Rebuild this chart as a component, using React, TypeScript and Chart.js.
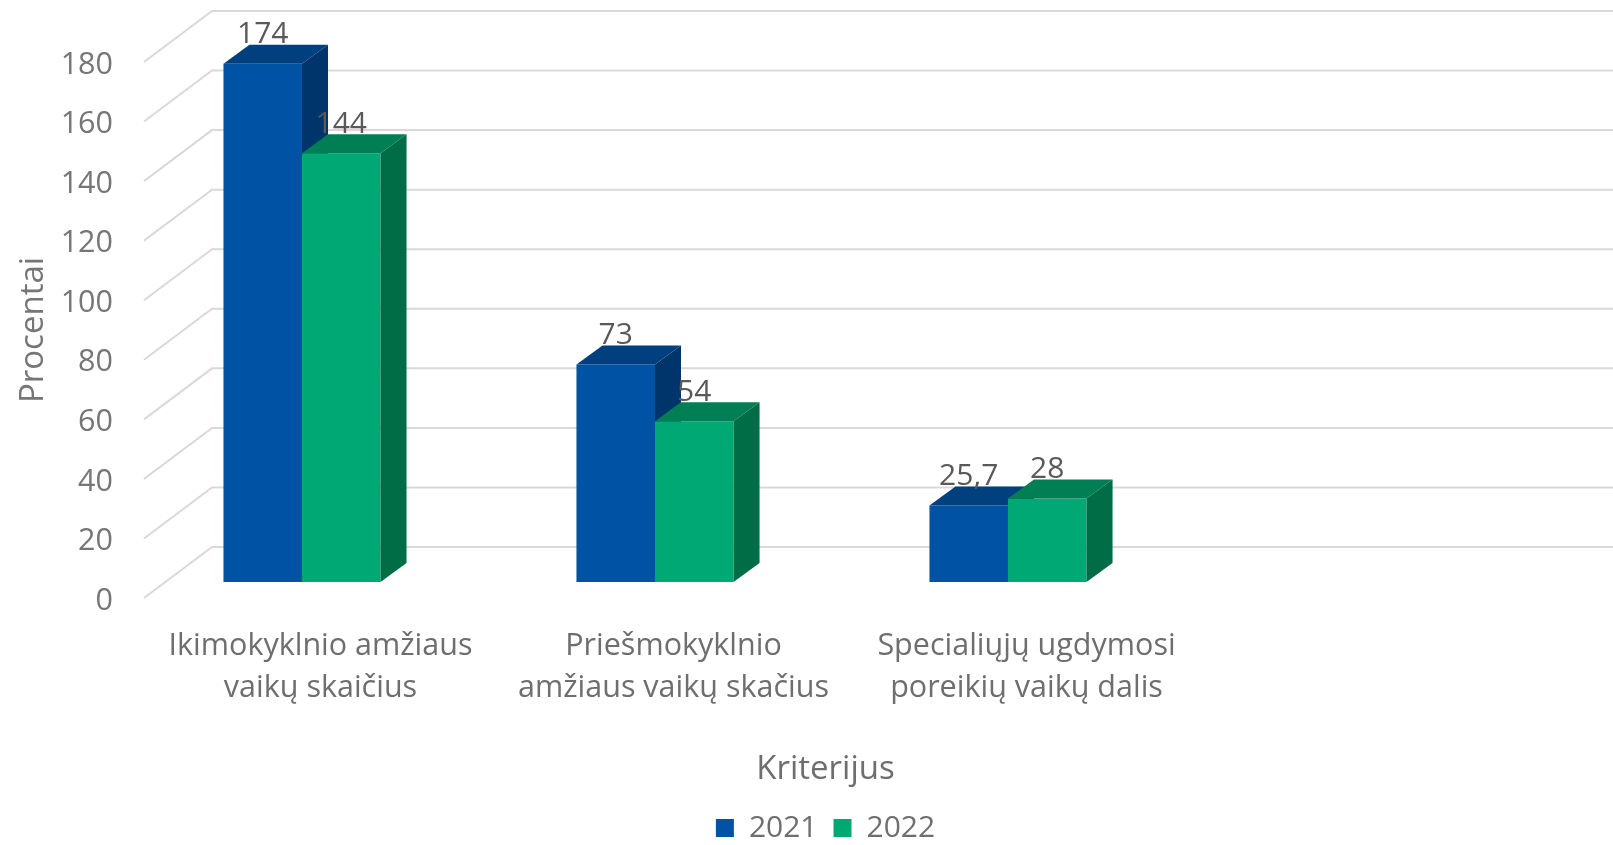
import { useEffect, useRef } from 'react';
import { Chart, registerables } from 'chart.js';

Chart.register(...registerables);

const categories = [
  ['Ikimokyklnio amžiaus', 'vaikų skaičius'],
  ['Priešmokyklnio', 'amžiaus vaikų skačius'],
  ['Specialiųjų ugdymosi', 'poreikių vaikų dalis'],
];
const seriesNames = ['2021', '2022'];
const values2021 = [174, 73, 25.7];
const values2022 = [144, 54, 28];
const yMin = 0;
const yMax = 180;
const yStep = 20;
const yTitle = 'Procentai';
const xTitle = 'Kriterijus';

const frontColors = ['#0053A4', '#00A874'];
const topColors = ['#00407F', '#007F55'];
const sideColors = ['#00356B', '#006D46'];

const FONT = '"Open Sans", "Noto Sans", sans-serif';
const WALL_DX = 68;
const WALL_DY = 51;
const BAR_SHIFT_X = -18.5;
const BAR_SHIFT_Y = -16;
const BAR_DX = 26;
const BAR_DY = 19;

const fmt = (v: number) => String(v).replace('.', ',');

const bars3d = {
  id: 'bars3d',
  beforeDatasetsDraw(chart: any) {
    const y = chart.scales.y;
    const ctx = chart.ctx;
    const left = chart.chartArea.left;
    ctx.save();
    ctx.strokeStyle = '#d9d9d9';
    ctx.lineWidth = 2;
    for (const t of y.ticks) {
      const py = y.getPixelForValue(t.value);
      ctx.beginPath();
      ctx.moveTo(left, py);
      ctx.lineTo(left + WALL_DX, py - WALL_DY);
      ctx.lineTo(chart.width, py - WALL_DY);
      ctx.stroke();
    }
    ctx.restore();
  },
  beforeDatasetDraw() {
    // bars are drawn below, in dataset order, together with their 3D faces
    return false;
  },
  afterDatasetsDraw(chart: any) {
    const ctx = chart.ctx;
    ctx.save();
    ctx.translate(BAR_SHIFT_X, BAR_SHIFT_Y);
    chart.data.datasets.forEach((_ds: any, i: number) => {
      const meta = chart.getDatasetMeta(i);
      for (const el of meta.data) {
        el.draw(ctx, chart.chartArea);
        const { x, y, base, width } = el.getProps(['x', 'y', 'base', 'width'], true);
        const x1 = x - width / 2;
        const x2 = x + width / 2;
        ctx.fillStyle = topColors[i];
        ctx.beginPath();
        ctx.moveTo(x1, y);
        ctx.lineTo(x1 + BAR_DX, y - BAR_DY);
        ctx.lineTo(x2 + BAR_DX, y - BAR_DY);
        ctx.lineTo(x2, y);
        ctx.closePath();
        ctx.fill();
        ctx.fillStyle = sideColors[i];
        ctx.beginPath();
        ctx.moveTo(x2, y);
        ctx.lineTo(x2 + BAR_DX, y - BAR_DY);
        ctx.lineTo(x2 + BAR_DX, base - BAR_DY);
        ctx.lineTo(x2, base);
        ctx.closePath();
        ctx.fill();
      }
    });
    ctx.font = `30px ${FONT}`;
    ctx.fillStyle = '#595959';
    ctx.textAlign = 'center';
    ctx.textBaseline = 'middle';
    chart.data.datasets.forEach((ds: any, di: number) => {
      const meta = chart.getDatasetMeta(di);
      meta.data.forEach((el: any, k: number) => {
        const { x, y } = el.getProps(['x', 'y'], true);
        ctx.fillText(fmt(ds.data[k]), x, y - 29);
      });
    });
    ctx.restore();
  },
};

export default function App() {
  const ref = useRef<HTMLCanvasElement>(null);
  useEffect(() => {
    const chart = new Chart(ref.current as HTMLCanvasElement, {
      type: 'bar',
      data: {
        labels: categories,
        datasets: [
          { label: seriesNames[0], data: values2021, backgroundColor: frontColors[0], clip: false as any },
          { label: seriesNames[1], data: values2022, backgroundColor: frontColors[1], clip: false as any },
        ],
      },
      options: {
        animation: false,
        responsive: true,
        maintainAspectRatio: false,
        layout: { padding: { top: 62, left: 14, right: 0, bottom: 0 } },
        datasets: { bar: { categoryPercentage: 0.445, barPercentage: 1 } },
        scales: {
          x: {
            type: 'category',
            grid: { display: false, drawTicks: false },
            border: { display: false },
            ticks: { padding: 28, color: '#6e6e6e', font: { family: FONT, size: 30.5, lineHeight: 1.36 }, maxRotation: 0, autoSkip: false },
            afterFit: (s: any) => { s.height = 108; },
          },
          y: {
            type: 'linear',
            position: 'left',
            min: yMin,
            max: yMax,
            grid: { display: false, drawTicks: false },
            border: { display: false },
            ticks: { stepSize: yStep, padding: 31, labelOffset: 3, color: '#767676', font: { family: FONT, size: 30.5 } },
            title: { display: true, text: yTitle, color: '#767676', padding: 0, font: { family: FONT, size: 33, lineHeight: 1.2 } },
            afterFit: (s: any) => { s.width = 130; },
          },
          yR: {
            type: 'linear',
            position: 'right',
            grid: { display: false, drawTicks: false },
            border: { display: false },
            ticks: { display: false },
            afterFit: (s: any) => { s.width = 434; },
          },
        },
        plugins: {
          tooltip: { enabled: false },
          title: {
            display: true,
            position: 'bottom',
            text: xTitle,
            color: '#6e6e6e',
            weight: 500,
            padding: { top: 44, bottom: 7.4 },
            font: { family: FONT, size: 33, weight: 'normal', lineHeight: 1.2 },
          } as any,
          legend: {
            position: 'bottom',
            maxHeight: 48,
            labels: {
              boxWidth: 18,
              boxHeight: 18,
              padding: 16,
              color: '#6e6e6e',
              font: { family: FONT, size: 30 },
            },
          },
        },
      },
      plugins: [bars3d],
    });
    return () => chart.destroy();
  }, []);
  return (
    <div style={{ position: 'fixed', left: 0, top: 0, width: 1613, height: 845, overflow: 'hidden', background: '#ffffff' }}>
      <div style={{ position: 'relative', width: 1637, height: 845 }}>
        <canvas ref={ref} />
      </div>
    </div>
  );
}
